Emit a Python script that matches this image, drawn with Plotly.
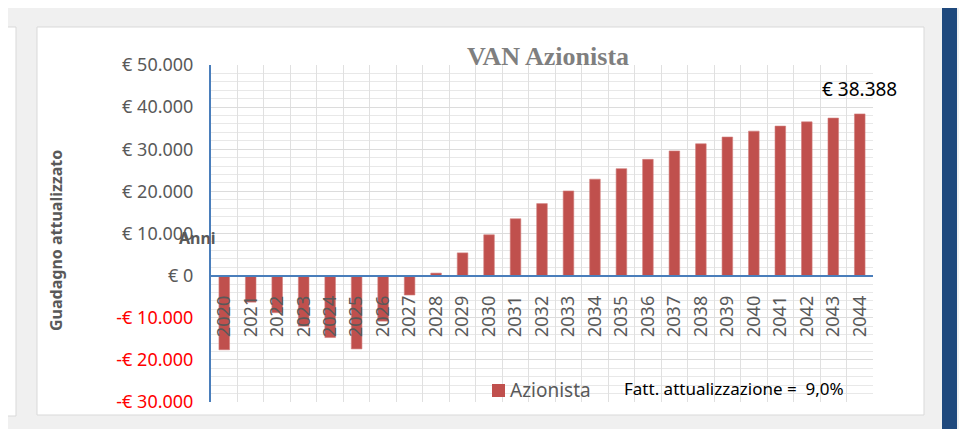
import plotly.graph_objects as go

years = [str(y) for y in range(2020, 2045)]
van_azionista = [-17600, -6300, -8800, -12000, -14700, -17400, -10800, -4600,
                 600, 5400, 9700, 13500, 17100, 20100, 22900, 25400, 27600,
                 29600, 31300, 32900, 34300, 35500, 36500, 37400, 38388]
y_tickvals = [-30000, -20000, -10000, 0, 10000, 20000, 30000, 40000, 50000]
y_ticktext = ["-€ 30.000", "-€ 20.000", "-€ 10.000", "€ 0", "€ 10.000",
              "€ 20.000", "€ 30.000", "€ 40.000", "€ 50.000"]
last_label = "€ 38.388"
rate_label = "Fatt. attualizzazione =\u00a0\u00a09,0%"

# the page body has an 8px margin: the figure starts at (8, 8) of the window
OFF = 8
W, H = 967 - OFF, 429 - OFF
L, R, T, B = 211 - OFF, 873 - OFF, 65 - OFF, 402 - OFF
FONT = "Noto Sans"


def fx(px):
    return (px - OFF - L) / (R - L)


def fy(py):
    return (B - (py - OFF)) / (B - T)


def colored(v, t):
    return f'<span style="color:#ff0000">{t}</span>' if v < 0 else t


fig = go.Figure()
fig.add_trace(go.Bar(x=years, y=van_azionista, name="Azionista",
                     marker=dict(color="#c0504d", line=dict(color="#d27f7d", width=0.6)),
                     showlegend=False))

shapes = [
    # page decoration
    dict(type="rect", xref="paper", yref="paper", x0=fx(-2), x1=fx(16), y0=fy(27), y1=fy(416),
         fillcolor="white", line=dict(color="#d9d9d9", width=1), layer="below"),
    dict(type="rect", xref="paper", yref="paper", x0=fx(37), x1=fx(924), y0=fy(27), y1=fy(415),
         fillcolor="white", line=dict(color="#d9d9d9", width=1), layer="below"),
    dict(type="rect", xref="paper", yref="paper", x0=fx(942), x1=fx(957), y0=fy(0), y1=fy(430),
         fillcolor="#1f497d", line=dict(width=0), layer="below"),
    # legend swatch
    dict(type="rect", xref="paper", yref="paper", x0=fx(492), x1=fx(505), y0=fy(384), y1=fy(397),
         fillcolor="#c0504d", line=dict(width=0), layer="above"),
]

annotations = [
    dict(text="<b>VAN Azionista</b>", xref="paper", yref="paper", x=fx(548), y=fy(56),
         showarrow=False, font=dict(family="Liberation Serif", size=26, color="#7f7f7f"),
         xanchor="center", yanchor="middle"),
    dict(text="<b>Guadagno attualizzato</b>", xref="paper", yref="paper", x=fx(56), y=fy(241),
         showarrow=False, textangle=-90, font=dict(family=FONT, size=16, color="#595959"),
         xanchor="center", yanchor="middle"),
    dict(text="<b>Anni</b>", xref="paper", yref="paper", x=fx(197), y=fy(238),
         showarrow=False, font=dict(family=FONT, size=16, color="#595959"),
         xanchor="center", yanchor="middle"),
    dict(text=last_label, x=len(years) - 1, y=van_azionista[-1], xref="x", yref="y",
         showarrow=False, yanchor="bottom", xanchor="center", yshift=10,
         font=dict(family=FONT, size=19, color="black")),
    dict(text="Azionista", xref="paper", yref="paper", x=fx(508), y=fy(390),
         showarrow=False, xanchor="left", yanchor="middle",
         font=dict(family=FONT, size=19, color="#595959")),
    dict(text=rate_label, xref="paper", yref="paper", x=fx(734), y=fy(388),
         showarrow=False, xanchor="center", yanchor="middle",
         font=dict(family=FONT, size=17, color="black")),
]

fig.update_layout(
    width=W, height=H,
    margin=dict(l=L, r=W - R, t=T, b=H - B, pad=0, autoexpand=False),
    paper_bgcolor="#f0f0f0", plot_bgcolor="white",
    bargap=0.6,
    shapes=shapes, annotations=annotations,
    font=dict(family=FONT, color="#595959"),
    xaxis=dict(type="category", range=[-0.5, len(years) - 0.5], tickson="boundaries",
               showgrid=True, gridcolor="#e0e0e0", automargin=False,
               gridwidth=1, anchor="free", position=0.375, showline=True,
               linecolor="#4a7ebb", linewidth=2, ticks="", tickangle=-90,
               ticklabelstandoff=12, tickfont=dict(family=FONT, size=18, color="#595959"),
               zeroline=False),
    yaxis=dict(range=[-30000, 50000], tickvals=y_tickvals, automargin=False,
               ticktext=[colored(v, t) for v, t in zip(y_tickvals, y_ticktext)],
               showgrid=True, gridcolor="#dcdcdc", gridwidth=1,
               minor=dict(dtick=2000, showgrid=True, gridcolor="#e8e8e8", gridwidth=1),
               showline=True, linecolor="#4a7ebb", linewidth=2, ticks="",
               ticklabelstandoff=12, zeroline=False,
               tickfont=dict(family=FONT, size=18, color="#595959")),
)

fig.write_html("out.html")
